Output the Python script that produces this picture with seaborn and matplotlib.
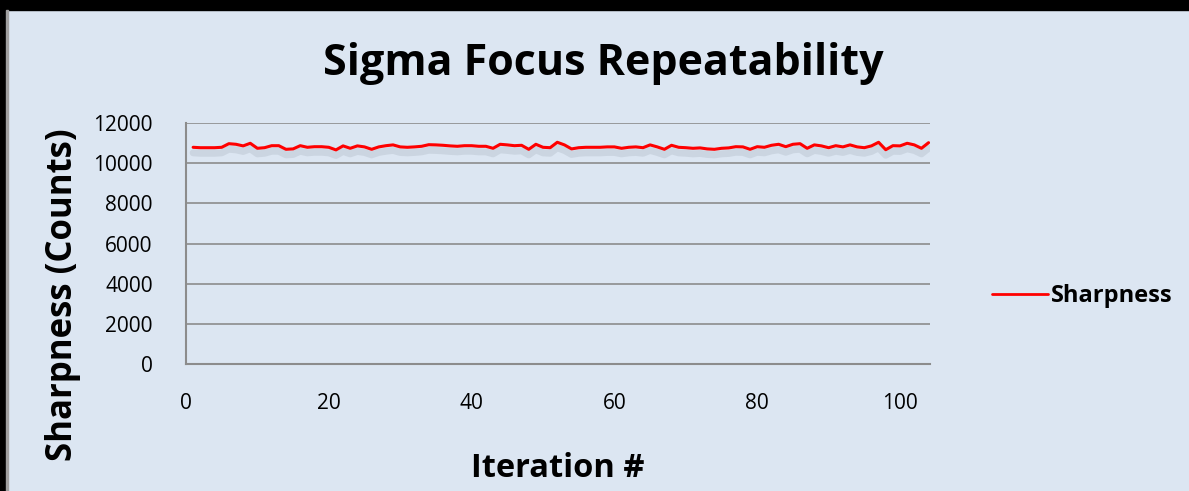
import numpy as np
import pandas as pd
import matplotlib
matplotlib.use('Agg')
import matplotlib.pyplot as plt
import matplotlib.patheffects as pe
import seaborn as sns

# ---------- Data ----------
iterations = list(range(1, 105))
sharpness = [
    10790, 10770, 10770, 10770, 10790, 10970, 10940, 10860, 10990, 10740,
    10770, 10870, 10870, 10690, 10710, 10870, 10790, 10820, 10820, 10790,
    10660, 10860, 10740, 10860, 10810, 10690, 10810, 10870, 10910, 10810,
    10790, 10810, 10840, 10920, 10910, 10890, 10860, 10840, 10870, 10870,
    10840, 10840, 10740, 10940, 10910, 10870, 10890, 10690, 10940, 10790,
    10770, 11040, 10910, 10710, 10770, 10790, 10790, 10790, 10810, 10810,
    10740, 10790, 10810, 10770, 10910, 10810, 10690, 10890, 10790, 10770,
    10740, 10760, 10710, 10690, 10740, 10760, 10820, 10810, 10690, 10820,
    10790, 10890, 10940, 10820, 10940, 10970, 10740, 10910, 10860, 10770,
    10870, 10810, 10910, 10810, 10770, 10860, 11040, 10670, 10870, 10860,
    10990, 10910, 10740, 11020,
]
y_ticks = [0, 2000, 4000, 6000, 8000, 10000, 12000]
x_ticks = [0, 20, 40, 60, 80, 100]

df = pd.DataFrame({'Iteration #': iterations, 'Sharpness': sharpness})

BG = '#dce6f2'
GRID = '#8c8c8c'

sns.set_style('white')
plt.rcParams['font.family'] = ['Open Sans', 'DejaVu Sans']
plt.rcParams['text.color'] = 'black'
plt.rcParams['axes.labelcolor'] = 'black'

fig = plt.figure(figsize=(11.89, 4.91), dpi=100, facecolor=BG)
ax = fig.add_axes([186/1189, 1 - 364/491, (930-186)/1189, (364-123)/491])
ax.set_facecolor(BG)

sns.lineplot(data=df, x='Iteration #', y='Sharpness', ax=ax, color='#ff0000',
             lw=2.2, label='Sharpness',
             path_effects=[pe.SimpleLineShadow(offset=(0, -4), shadow_color='#7f8a96',
                                               alpha=0.18, linewidth=5),
                           pe.Normal()])

ax.set_xlim(0, 104.2)
ax.set_ylim(0, 12000)
ax.set_xticks(x_ticks)
ax.set_yticks(y_ticks)
ax.yaxis.grid(True, color=GRID, lw=1.2)
ax.xaxis.grid(False)
for s in ['top', 'right']:
    ax.spines[s].set_visible(False)
for s in ['left', 'bottom']:
    ax.spines[s].set_color(GRID)
    ax.spines[s].set_linewidth(1.5)
ax.tick_params(axis='both', length=0, labelsize=15, colors='black')
ax.tick_params(axis='x', pad=21)
ax.tick_params(axis='y', pad=24)

ax.set_xlabel('Iteration #', fontsize=23.5, fontweight='bold', labelpad=27)
ax.set_ylabel('Sharpness (Counts)', fontsize=25, fontweight='bold')
ax.yaxis.set_label_coords(-0.141, 0.286)
fig.text(0.507, 0.871, 'Sigma Focus Repeatability', ha='center', va='center',
         fontsize=31, fontweight='bold')

leg = ax.legend(loc='center left', bbox_to_anchor=(1.055, 0.282), frameon=False,
                handlelength=2.35, handletextpad=0.15, fontsize=17)
for t in leg.get_texts():
    t.set_fontweight('bold')
for ln in leg.get_lines():
    ln.set_path_effects([])
    ln.set_linewidth(2)

# black frame at top and left, like the screenshot
fig.patches.append(plt.Rectangle((0, 1 - 10/491), 1, 10/491, transform=fig.transFigure,
                                 color='black', zorder=10))
fig.patches.append(plt.Rectangle((0, 0), 6/1189, 1, transform=fig.transFigure,
                                 color='black', zorder=10))
fig.patches.append(plt.Rectangle((6/1189, 0), 2/1189, 1 - 10/491, transform=fig.transFigure,
                                 color='#a0a0a0', zorder=10))

fig.savefig('out.png', dpi=100, facecolor=BG)
